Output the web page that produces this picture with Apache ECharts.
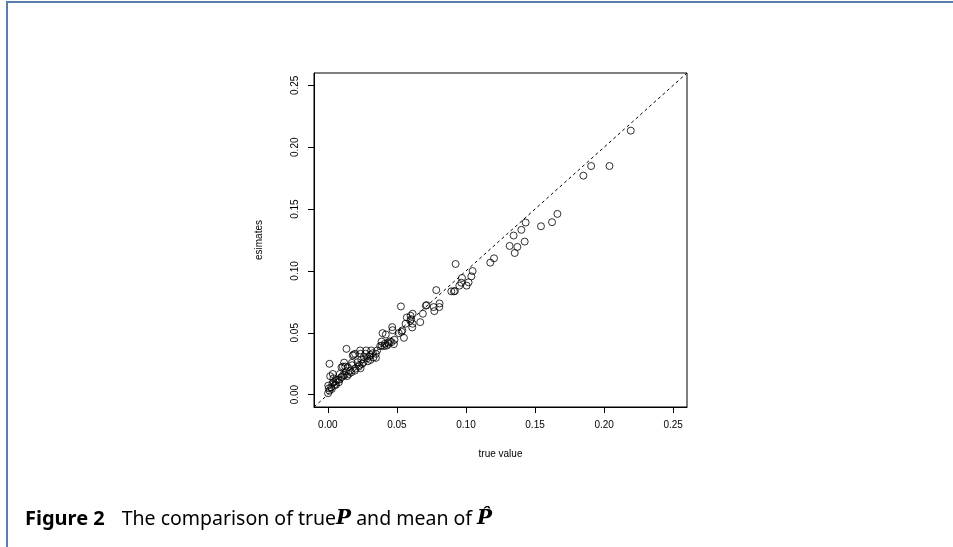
<!DOCTYPE html>
<html>
<head>
<meta charset="utf-8">
<title>true value vs esimates</title>
<script src="https://cdn.jsdelivr.net/npm/echarts@6/dist/echarts.min.js"></script>
<style>
    html, body { margin: 0; padding: 0; background: #fff; }
    #chart { width: 953px; height: 547px; }
</style>
</head>
<body>
<div id="chart"></div>
<script>
// values
var trueValue = [
    0.2193, 0.1906, 0.1850, 0.2039, 0.1662, 0.1623, 0.1543, 0.1432, 0.1401, 0.1345,
    0.1425, 0.1316, 0.1372, 0.1353, 0.1203, 0.1176, 0.0925, 0.1048, 0.1039, 0.0971,
    0.1019, 0.0966, 0.0952, 0.1005, 0.0920, 0.0894, 0.0913, 0.0785, 0.0809, 0.0766,
    0.0807, 0.0771, 0.0715, 0.0710, 0.0688, 0.0669, 0.0529, 0.0614, 0.0599, 0.0572,
    0.0604, 0.0597, 0.0614, 0.0611, 0.0563, 0.0551, 0.0539, 0.0534, 0.0514, 0.0466,
    0.0469, 0.0396, 0.0420, 0.0483, 0.0461, 0.0478, 0.0435, 0.0413, 0.0389, 0.0391,
    0.0428, 0.0408, 0.0379, 0.0357, 0.0348, 0.0326, 0.0314, 0.0278, 0.0234, 0.0135,
    0.0181, 0.0198, 0.0237, 0.0273, 0.0309, 0.0285, 0.0261, 0.0242, 0.0309, 0.0348,
    0.0258, 0.0249, 0.0229, 0.0215, 0.0237, 0.0225, 0.0196, 0.0176, 0.0162, 0.0145,
    0.0118, 0.0109, 0.0126, 0.0099, 0.0133, 0.0152, 0.0121, 0.0101, 0.0087, 0.0077,
    0.0056, 0.0034, 0.0012, 0.0017, 0.0036, 0.0041, 0.0051, 0.0024, 0.0007, 0.0002,
    0.0012, 0.0029, 0.0003, 0.0041, 0.0065, 0.0097, 0.0111, 0.0174, 0.0186, 0.0300,
    0.0330, 0.0290, 0.0200, 0.0170, 0.0140, 0.0060, 0.0080, 0.0440, 0.0450
];
var estimates = [
    0.2134, 0.1848, 0.1770, 0.1848, 0.1461, 0.1394, 0.1361, 0.1391, 0.1332, 0.1286,
    0.1237, 0.1202, 0.1194, 0.1145, 0.1102, 0.1067, 0.1056, 0.0999, 0.0956, 0.0943,
    0.0908, 0.0905, 0.0881, 0.0881, 0.0837, 0.0835, 0.0835, 0.0845, 0.0737, 0.0708,
    0.0708, 0.0675, 0.0724, 0.0719, 0.0654, 0.0586, 0.0713, 0.0654, 0.0637, 0.0624,
    0.0610, 0.0597, 0.0573, 0.0543, 0.0573, 0.0459, 0.0519, 0.0508, 0.0497, 0.0546,
    0.0521, 0.0497, 0.0486, 0.0443, 0.0424, 0.0408, 0.0421, 0.0411, 0.0429, 0.0397,
    0.0397, 0.0392, 0.0392, 0.0357, 0.0330, 0.0335, 0.0357, 0.0357, 0.0357, 0.0370,
    0.0316, 0.0330, 0.0330, 0.0330, 0.0321, 0.0294, 0.0303, 0.0284, 0.0281, 0.0297,
    0.0262, 0.0249, 0.0240, 0.0262, 0.0213, 0.0227, 0.0194, 0.0238, 0.0194, 0.0221,
    0.0259, 0.0227, 0.0227, 0.0221, 0.0189, 0.0167, 0.0159, 0.0143, 0.0167, 0.0122,
    0.0108, 0.0092, 0.0249, 0.0149, 0.0167, 0.0132, 0.0078, 0.0059, 0.0051, 0.0011,
    0.0032, 0.0046, 0.0073, 0.0100, 0.0119, 0.0140, 0.0159, 0.0257, 0.0324, 0.0310,
    0.0300, 0.0270, 0.0210, 0.0180, 0.0150, 0.0080, 0.0100, 0.0410, 0.0430
];
// R style axis: data range 0..0.25 padded 4%
var axisRange = [-0.01, 0.26];
var tickValues = [0, 0.05, 0.10, 0.15, 0.20, 0.25];
var identityLine = [[-0.01, -0.01], [0.26, 0.26]];

var points = trueValue.map(function (v, i) { return [v, estimates[i]]; });

function axisCommon(name, isY) {
    return {
        type: 'value',
        name: name,
        nameLocation: 'middle',
        nameGap: isY ? 50 : 42,
        nameTextStyle: { fontFamily: 'Liberation Sans', fontSize: 10, color: '#000' },
        min: axisRange[0],
        max: axisRange[1],
        splitLine: { show: false },
        axisLine: { show: true, onZero: false, lineStyle: { color: '#000', width: 1 } },
        axisTick: {
            show: true,
            length: 6,
            customValues: tickValues,
            lineStyle: { color: '#000', width: 1 }
        },
        axisLabel: {
            customValues: tickValues,
            rotate: isY ? 90 : 0,
            margin: isY ? 14 : 13,
            fontFamily: 'Liberation Sans',
            fontSize: 10,
            color: '#000',
            formatter: function (v) { return v.toFixed(2); }
        }
    };
}

var chart = echarts.init(document.getElementById('chart'), null, { renderer: 'canvas' });
chart.setOption({
    animation: false,
    backgroundColor: '#fff',
    grid: {
        left: 314,
        top: 73,
        width: 373,
        height: 334,
        show: true,
        borderColor: '#000',
        borderWidth: 1,
        backgroundColor: 'transparent'
    },
    xAxis: axisCommon('true value', false),
    yAxis: axisCommon('esimates', true),
    series: [
        {
            type: 'line',
            data: identityLine,
            symbol: 'none',
            silent: true,
            lineStyle: { color: '#000', width: 1, type: [3, 3] },
            z: 1
        },
        {
            type: 'scatter',
            data: points,
            symbol: 'circle',
            symbolSize: 7,
            itemStyle: {
                color: 'rgba(0,0,0,0)',
                borderColor: '#000',
                borderWidth: 1
            },
            z: 2
        }
    ],
    graphic: [
        // page frame
        {
            type: 'line',
            shape: { x1: 6, y1: 2, x2: 953, y2: 2 },
            style: { stroke: '#5a7eab', lineWidth: 2 }
        },
        {
            type: 'line',
            shape: { x1: 7, y1: 2, x2: 7, y2: 547 },
            style: { stroke: '#5a7eab', lineWidth: 2 }
        },
        // caption
        {
            type: 'text',
            left: 25,
            top: 509,
            style: {
                text: '{b|Figure 2}The comparison of true{p|P} and mean of {p|P\u0302}',
                fontFamily: 'Noto Sans',
                fontSize: 19.5,
                fill: '#000',
                rich: {
                    b: { fontFamily: 'Noto Sans', fontWeight: 'bold', fontSize: 20, padding: [0, 17, 0, 0] },
                    p: { fontFamily: 'DejaVu Serif', fontStyle: 'italic', fontWeight: 'bold', fontSize: 20 }
                }
            }
        }
    ]
});
</script>
</body>
</html>
